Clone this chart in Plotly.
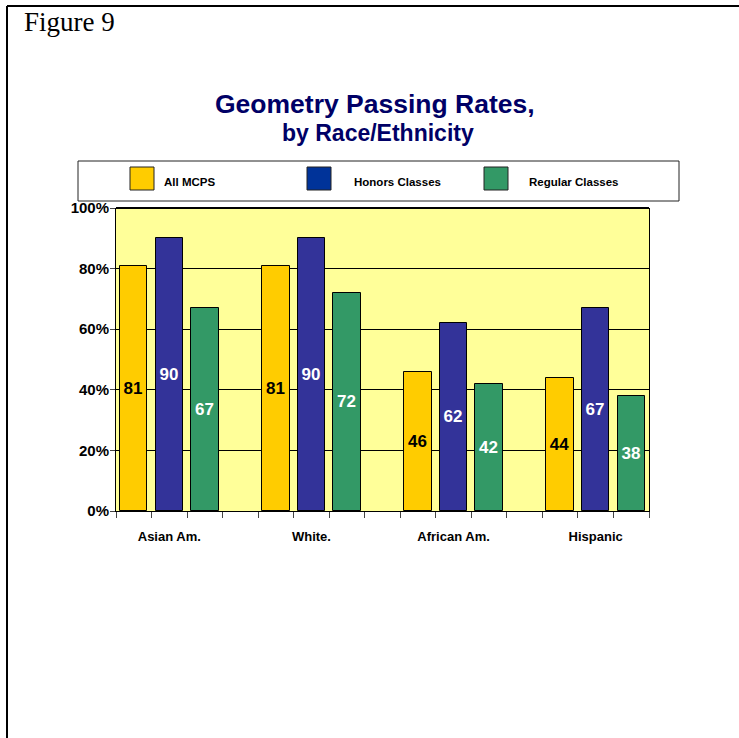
import plotly.graph_objects as go

# ---- data ----
categories = ["Asian Am.", "White.", "African Am.", "Hispanic"]
series_names = ["All MCPS", "Honors Classes", "Regular Classes"]
all_mcps = [81, 81, 46, 44]
honors = [90, 90, 62, 67]
regular = [67, 72, 42, 38]
y_ticks = [0, 20, 40, 60, 80, 100]

bar_colors = ["#FFCC00", "#333399", "#339966"]
legend_colors = ["#FFCC00", "#003399", "#339966"]
label_colors = ["#000000", "#FFFFFF", "#FFFFFF"]

W, H = 739, 738
ML, MR, MT, MB = 116, 90, 208, 227
L, R, T, B = ML, W - MR, MT, H - MB


def px(x):
    return (x - L) / (R - L)


def py(y):
    return (B - y) / (B - T)


SANS = "Liberation Sans, Arial, sans-serif"

fig = go.Figure()
values = [all_mcps, honors, regular]
slots_per_group = 4
for s, (name, vals) in enumerate(zip(series_names, values)):
    xs = [g * slots_per_group + s for g in range(len(categories))]
    fig.add_trace(go.Bar(
        x=xs, y=vals, name=name, width=0.77,
        marker=dict(color=bar_colors[s], line=dict(color="#000000", width=1)),
        text=[str(v) for v in vals], texttemplate="<b>%{text}</b>",
        textposition="inside", insidetextanchor="middle", textangle=0,
        textfont=dict(family=SANS, size=17, color=label_colors[s]),
        showlegend=False, cliponaxis=False, hoverinfo="skip",
    ))

n_slots = slots_per_group * len(categories) - 1
fig.update_xaxes(
    range=[-0.5, n_slots - 0.5],
    tickmode="array",
    tickvals=[g * slots_per_group + 1 for g in range(len(categories))],
    ticktext=[f"<b>{c}</b>" for c in categories], ticks="", ticklabelstandoff=13,
    tickfont=dict(family=SANS, size=13, color="#000000"),
    showline=True, linecolor="#000000", linewidth=1,
    showgrid=False, zeroline=False,
    minor=dict(tickmode="array", tickvals=[k - 0.5 for k in range(n_slots + 1)],
               ticks="outside", ticklen=6, tickcolor="#444444", tickwidth=1,
               showgrid=False),
)
fig.update_yaxes(
    range=[0, 100], tickmode="array", tickvals=y_ticks,
    ticktext=[f"<b>{v}%</b>" for v in y_ticks],
    tickfont=dict(family=SANS, size=15, color="#000000"),
    ticks="outside", ticklen=5, tickcolor="#444444", ticklabelstandoff=-2,
    showline=True, linecolor="#000000", linewidth=1, mirror=True,
    showgrid=True, gridcolor="#000000", gridwidth=1, zeroline=False,
)

shapes = []
annotations = []
# outer page frame (top and left)
shapes.append(dict(type="line", xref="paper", yref="paper",
                   x0=px(7), x1=px(739), y0=py(6), y1=py(6),
                   line=dict(color="#000000", width=2)))
shapes.append(dict(type="line", xref="paper", yref="paper",
                   x0=px(7), x1=px(7), y0=py(6), y1=py(738),
                   line=dict(color="#000000", width=2)))
# thicker top border of plot area
shapes.append(dict(type="line", xref="paper", yref="paper",
                   x0=0, x1=1, y0=1, y1=1,
                   line=dict(color="#000000", width=2)))
# legend box
shapes.append(dict(type="rect", xref="paper", yref="paper",
                   x0=px(78), x1=px(679), y0=py(161), y1=py(201),
                   line=dict(color="#222222", width=1), fillcolor="#FFFFFF"))
leg_sq_x = [130, 307, 484]
leg_txt_x = [162, 352, 527]
for i, name in enumerate(series_names):
    shapes.append(dict(type="rect", xref="paper", yref="paper",
                       x0=px(leg_sq_x[i]), x1=px(leg_sq_x[i] + 24),
                       y0=py(167), y1=py(190),
                       line=dict(color="#222222", width=1),
                       fillcolor=legend_colors[i]))
    annotations.append(dict(xref="paper", yref="paper", x=px(leg_txt_x[i]),
                            y=py(182), xanchor="left", yanchor="middle",
                            text=f"<b>{name}</b>", showarrow=False,
                            font=dict(family=SANS, size=11.5, color="#000000")))

annotations.append(dict(xref="paper", yref="paper", x=px(22), y=py(22),
                        xanchor="left", yanchor="middle", text="Figure 9",
                        showarrow=False,
                        font=dict(family="Liberation Serif, Times New Roman, serif",
                                  size=27, color="#000000")))
annotations.append(dict(xref="paper", yref="paper", x=px(375), y=py(104),
                        xanchor="center", yanchor="middle",
                        text="<b>Geometry Passing Rates,</b>", showarrow=False,
                        font=dict(family=SANS, size=26.5, color="#000066")))
annotations.append(dict(xref="paper", yref="paper", x=px(378), y=py(133),
                        xanchor="center", yanchor="middle",
                        text="<b>by Race/Ethnicity</b>", showarrow=False,
                        font=dict(family=SANS, size=23, color="#000066")))

fig.update_layout(
    width=W, height=H,
    margin=dict(l=ML, r=MR, t=MT, b=MB, pad=0),
    paper_bgcolor="#FFFFFF", plot_bgcolor="#FFFF99",
    barmode="overlay", bargap=0,
    shapes=shapes, annotations=annotations,
    font=dict(family=SANS, color="#000000"),
    hovermode=False,
)

fig.write_html("out.html", config={"displayModeBar": False},
               post_script="document.body.style.margin='0';document.body.style.padding='0';")
